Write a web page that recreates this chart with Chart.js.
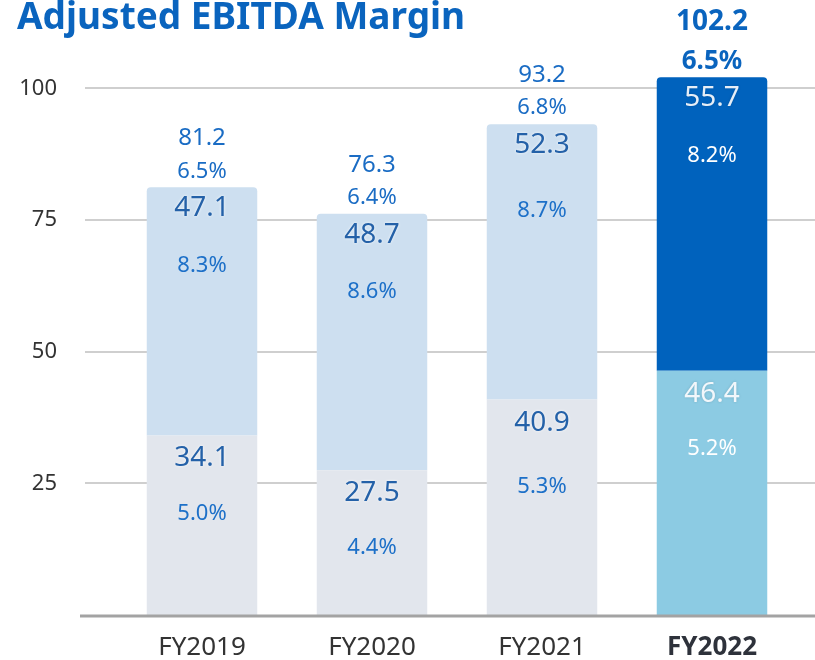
<!DOCTYPE html>
<html>
<head>
<meta charset="utf-8">
<script src="https://cdn.jsdelivr.net/npm/chart.js@4"></script>
<style>
  html, body { margin: 0; padding: 0; background: #fff; overflow: hidden; }
  #wrap { width: 815px; height: 660px; position: relative; }
</style>
</head>
<body>
<div id="wrap"><canvas id="ebitda"></canvas></div>
<script>
// data
const categories = ['FY2019', 'FY2020', 'FY2021', 'FY2022'];
const lowerValues = [34.1, 27.5, 40.9, 46.4];
const upperValues = [47.1, 48.7, 52.3, 55.7];
const totals = [81.2, 76.3, 93.2, 102.2];
const lowerMargins = ['5.0%', '4.4%', '5.3%', '5.2%'];
const upperMargins = ['8.3%', '8.6%', '8.7%', '8.2%'];
const totalMargins = ['6.5%', '6.4%', '6.8%', '6.5%'];
const yTicks = [25, 50, 75, 100];

const FONT = '"Noto Sans", "Open Sans", sans-serif';
const BLUE = '#1a6cc4';
const last = categories.length - 1;

// titre + grilles + étiquettes
const decoPlugin = {
  id: 'deco',
  beforeDatasetsDraw(chart) {
    const ctx = chart.ctx;
    const y = chart.scales.y;
    ctx.save();
    ctx.strokeStyle = '#cfcfcf';
    ctx.lineWidth = 2;
    yTicks.forEach(function (v) {
      const py = Math.round(y.getPixelForValue(v));
      ctx.beginPath();
      ctx.moveTo(85, py);
      ctx.lineTo(chart.width, py);
      ctx.stroke();
    });
    ctx.restore();
  },
  afterDatasetsDraw(chart) {
    const ctx = chart.ctx;
    const y = chart.scales.y;
    const low = chart.getDatasetMeta(0).data;
    const up = chart.getDatasetMeta(1).data;
    ctx.save();
    // baseline
    ctx.strokeStyle = '#a3a3a3';
    ctx.lineWidth = 3;
    const by = y.getPixelForValue(0) + 1;
    ctx.beginPath();
    ctx.moveTo(80, by);
    ctx.lineTo(chart.width, by);
    ctx.stroke();

    // title
    ctx.fillStyle = '#0a64be';
    ctx.font = 'bold 37px ' + FONT;
    ctx.textAlign = 'left';
    ctx.textBaseline = 'middle';
    ctx.fillText('Adjusted EBITDA Margin', 17, 18);

    ctx.textAlign = 'center';
    ctx.textBaseline = 'middle';
    categories.forEach(function (c, i) {
      const hi = i === last;
      const x = up[i].x;
      const topUp = up[i].y;
      const topLow = low[i].y;
      // totals above the bar
      ctx.shadowBlur = 0;
      ctx.fillStyle = hi ? '#0a64be' : BLUE;
      ctx.font = (hi ? 'bold 28px ' : '24px ') + FONT;
      ctx.fillText(String(totals[i]), x, topUp - (hi ? 55 : 49));
      ctx.font = (hi ? 'bold 26px ' : '22px ') + FONT;
      ctx.fillText(totalMargins[i], x, topUp - 16);
      // values inside segments
      ctx.font = '28px ' + FONT;
      ctx.shadowColor = hi ? 'rgba(0,0,0,0.15)' : 'rgba(255,255,255,0.9)';
      ctx.shadowBlur = 3;
      ctx.fillStyle = hi ? '#e6eef7' : '#2461a8';
      ctx.fillText(String(upperValues[i]), x, topUp + 21);
      ctx.fillStyle = hi ? '#f2f7fb' : '#2461a8';
      ctx.fillText(String(lowerValues[i]), x, topLow + 23);
      ctx.shadowBlur = 0;
      ctx.font = '22px ' + FONT;
      ctx.fillStyle = hi ? '#ffffff' : '#1d70c8';
      ctx.fillText(upperMargins[i], x, topUp + (i === 2 ? 87 : 78));
      ctx.fillText(lowerMargins[i], x, topLow + (i === 2 ? 87 : 78));
    });
    ctx.restore();
  }
};

const chart = new Chart(document.getElementById('ebitda'), {
  type: 'bar',
  data: {
    labels: categories,
    datasets: [
      {
        label: 'lower',
        data: lowerValues,
        backgroundColor: categories.map(function (c, i) { return i === last ? '#8ccbe3' : '#e2e6ed'; }),
        barPercentage: 0.65,
        categoryPercentage: 1,
        borderSkipped: false,
        borderRadius: 0
      },
      {
        label: 'upper',
        data: upperValues,
        backgroundColor: categories.map(function (c, i) { return i === last ? '#0062bd' : '#cddff0'; }),
        barPercentage: 0.65,
        categoryPercentage: 1,
        borderSkipped: false,
        borderRadius: { topLeft: 4, topRight: 4, bottomLeft: 0, bottomRight: 0 }
      }
    ]
  },
  options: {
    responsive: true,
    maintainAspectRatio: false,
    animation: false,
    layout: { padding: { top: 62, right: 18, left: 0, bottom: 0 } },
    plugins: { legend: { display: false }, tooltip: { enabled: false } },
    scales: {
      x: {
        stacked: true,
        grid: { display: false, drawTicks: false },
        border: { display: false },
        ticks: {
          padding: 17,
          color: function (ctx) { return ctx.index === last ? '#2e323b' : '#333'; },
          font: function (ctx) {
            return { family: FONT, size: 26, weight: ctx.index === last ? 'bold' : 'normal' };
          }
        },
        afterFit: function (s) { s.height = 45; }
      },
      y: {
        stacked: true,
        min: 0,
        max: 105,
        grid: { display: false, drawTicks: false },
        border: { display: false },
        afterBuildTicks: function (s) { s.ticks = yTicks.map(function (v) { return { value: v }; }); },
        ticks: { color: '#333', padding: 60, font: { family: FONT, size: 22 } },
        afterFit: function (s) { s.width = 117; s.paddingTop = 0; s.paddingBottom = 0; }
      }
    }
  },
  plugins: [decoPlugin]
});
</script>
</body>
</html>
